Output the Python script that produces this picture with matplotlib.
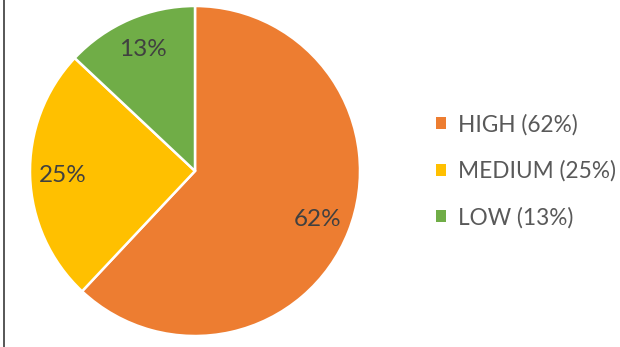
import matplotlib
matplotlib.use("Agg")
import matplotlib.pyplot as plt
from matplotlib.lines import Line2D
from matplotlib.patches import Patch

categories = ["HIGH", "MEDIUM", "LOW"]
shares = [62, 25, 13]
colors = ["#ED7D31", "#FFC000", "#70AD47"]

plt.rcParams["font.family"] = ["Lato", "DejaVu Sans"]

W, H = 620, 347
fig = plt.figure(figsize=(W / 100, H / 100), dpi=100)
fig.patch.set_facecolor("white")

# pie centred at (195, 171) px with radius 165 px
cx, cy, r = 195, 171, 165
ax = fig.add_axes([(cx - r) / W, (H - cy - r) / H, 2 * r / W, 2 * r / H])

wedges, texts, autotexts = ax.pie(
    shares,
    colors=colors,
    startangle=90,
    counterclock=False,
    autopct=lambda p: f"{p:.0f}%",
    pctdistance=0.80,
    wedgeprops=dict(edgecolor="white", linewidth=1.8),
    textprops=dict(color="#404040", fontsize=17.5),
)
ax.set_xlim(-1, 1)
ax.set_ylim(-1, 1)
ax.set_aspect("equal")
ax.axis("off")

handles = [Patch(facecolor=c, edgecolor="none") for c in colors]
labels = [f"{n} ({v}%)" for n, v in zip(categories, shares)]
leg = fig.legend(
    handles, labels,
    loc="center left",
    bbox_to_anchor=(436 / W, 1 - 171 / H),
    frameon=False,
    borderpad=0.0,
    borderaxespad=0.0,
    fontsize=16.3,
    handlelength=0.42,
    handleheight=0.42,
    handletextpad=0.55,
    labelspacing=1.1,
    labelcolor="#595959",
)

# thin frame edge on the left
fig.add_artist(Line2D([3.5 / W, 3.5 / W], [0, 1], color="#3a3a3a", linewidth=1.2))

fig.savefig("out.png", dpi=100, facecolor="white")
